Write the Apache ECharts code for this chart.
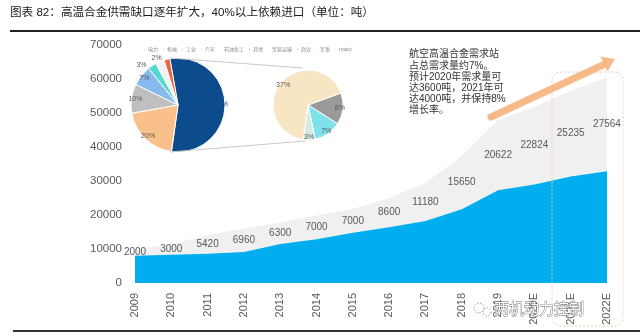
<!DOCTYPE html>
<html>
<head>
<meta charset="utf-8">
<script src="https://cdn.jsdelivr.net/npm/echarts@6/dist/echarts.min.js"></script>
<style>html,body{margin:0;padding:0;background:#fff}#c{width:640px;height:336px}</style>
</head>
<body>
<div id="c"></div>
<script>
// ---- data ----
const years = ['2009','2010','2011','2012','2013','2014','2015','2016','2017','2018','2019','2020E','2021E','2022E'];
const supply = [8000, 8300, 8600, 9100, 11500, 12850, 14800, 16400, 18200, 21700, 27300, 29000, 31300, 32900];
const gap = [2000, 3000, 5420, 6960, 6300, 7000, 7000, 8600, 11180, 15650, 20622, 22824, 25235, 27564];
const yTicks = [0, 10000, 20000, 30000, 40000, 50000, 60000, 70000];
const mainPieNames = ['航空航天', '电力', '机械', '工业', '汽车', '石油化工', '其他'];
const mainPieValues = [55, 20, 10, 7, 3, 3, 2];
const subPieNames = ['商业', '军事', 'rotary', '贸易运输'];
const subPieValues = [8, 7, 3, 37];
const titleText = '图表 82：高温合金供需缺口逐年扩大，40%以上依赖进口（单位：吨）';
const noteText = '航空高温合金需求站\n占总需求量约7%。\n预计2020年需求量可\n达3600吨，2021年可\n达4000吨，并保持8%\n增长率。';

const mainColors = ['#0C4C8C', '#F9C08C', '#BFBFBF', '#86B9EE', '#55D8D0', '#F2F2F2', '#E8653F'];
const subColors = ['#9A9A9A', '#7FE2EA', '#D3ECE3', '#F7E5C3'];
const FONT = "'Liberation Sans','Noto Sans CJK SC',sans-serif";

const chart = echarts.init(document.getElementById('c'), null, {renderer: 'canvas'});

const labelMid = supply.map((s, i) => s + gap[i] / 2);

const mainData = mainPieNames.map((n, i) => ({name: n, value: mainPieValues[i], itemStyle: {color: mainColors[i]}}));
const subData = subPieNames.map((n, i) => ({name: n, value: subPieValues[i], itemStyle: {color: subColors[i]}}));

const pctFmt = p => p.value + '%';

chart.setOption({
  animation: false,
  textStyle: {fontFamily: FONT},
  grid: {left: 135, right: 33, top: 45, bottom: 53, containLabel: false},
  legend: {
    data: ['电力','机械','工业','汽车','石油化工','其他','贸易运输','商业','军事','rotary'],
    left: 137, top: 42, itemWidth: 3, itemHeight: 3, icon: 'circle', itemGap: 3,
    textStyle: {fontSize: 5, color: '#8a8a8a', padding: [0,0,0,-3]}
  },
  xAxis: {
    type: 'category', data: years, boundaryGap: false,
    axisLine: {show: false}, axisTick: {show: false},
    axisLabel: {rotate: 90, margin: 10, fontSize: 11, color: '#595959', interval: 0, fontFamily: FONT}
  },
  yAxis: {
    type: 'value', min: yTicks[0], max: yTicks[yTicks.length - 1], interval: 10000,
    splitLine: {show: false}, axisLine: {show: false}, axisTick: {show: false},
    axisLabel: {fontSize: 11.5, color: '#595959', margin: 13, fontFamily: FONT, formatter: v => String(v)}
  },
  series: [
    {type: 'line', name: '供给', data: supply, stack: 'total', symbol: 'none',
     lineStyle: {width: 0}, areaStyle: {color: '#00AEEF', opacity: 1}, z: 2},
    {type: 'line', name: '缺口', data: gap, stack: 'total', symbol: 'none',
     lineStyle: {width: 0}, areaStyle: {color: '#F0F0F0', opacity: 1}, z: 1},
    {type: 'line', name: 'gapLabel', data: labelMid, symbol: 'circle', symbolSize: 2, showSymbol: true,
     silent: true, itemStyle: {color: 'rgba(0,0,0,0)', borderWidth: 0},
     lineStyle: {color: 'rgba(0,0,0,0)', width: 0}, z: 5,
     label: {show: true, position: 'inside', fontSize: 10, color: '#595959',
             formatter: p => String(gap[p.dataIndex])}},
    // main pie visible
    {type: 'pie', center: [178, 105], radius: 47, startAngle: 100, clockwise: true,
     data: mainData.map((d, i) => Object.assign({}, d, {
       label: i >= 4 ? {show: true, position: 'outside'} : {show: false}
     })),
     itemStyle: {borderColor: '#fff', borderWidth: 1},
     label: {fontSize: 7, color: '#595959', formatter: pctFmt},
     labelLine: {show: false, length: 1, length2: 0},
     avoidLabelOverlap: false, silent: true, z: 10},
    // main pie label carrier
    {type: 'pie', center: [178, 105], radius: 80, startAngle: 100, clockwise: true,
     data: mainData.map((d, i) => ({name: d.name, value: d.value,
       label: {show: i < 4, color: i === 0 ? '#1f4f80' : '#595959'}})),
     itemStyle: {color: 'rgba(0,0,0,0)'},
     label: {position: 'inside', fontSize: 7, formatter: pctFmt},
     labelLine: {show: false}, legendHoverLink: false, silent: true, z: 11},
    // sub pie visible
    {type: 'pie', center: [308, 105], radius: 35, startAngle: 20, clockwise: true,
     data: subData, itemStyle: {borderColor: '#fff', borderWidth: 1},
     label: {show: false}, labelLine: {show: false}, silent: true, z: 10},
    // sub pie label carrier
    {type: 'pie', center: [308, 105], radius: 58, startAngle: 20, clockwise: true,
     data: subData.map(d => ({name: d.name, value: d.value})),
     itemStyle: {color: 'rgba(0,0,0,0)'},
     label: {show: true, position: 'inside', fontSize: 7, color: '#595959', formatter: pctFmt},
     labelLine: {show: false}, silent: true, z: 11}
  ],
  graphic: [
    {type: 'text', left: 10, top: 7, style: {text: titleText, fontSize: 11.6, fill: '#1a1a1a', fontFamily: FONT}},
    {type: 'line', shape: {x1: 10, y1: 31, x2: 640, y2: 31}, style: {stroke: '#222', lineWidth: 2}},
    {type: 'line', shape: {x1: 13, y1: 331, x2: 640, y2: 331}, style: {stroke: '#333', lineWidth: 2}},
    {type: 'line', shape: {x1: 170, y1: 58, x2: 303, y2: 68}, style: {stroke: '#C8C8C8', lineWidth: 1}, z: 20},
    {type: 'line', shape: {x1: 170, y1: 152, x2: 305, y2: 141}, style: {stroke: '#C8C8C8', lineWidth: 1}, z: 20},
    {type: 'text', x: 409, y: 49, style: {text: noteText, fontSize: 10, lineHeight: 11.2, fill: '#333', fontFamily: FONT}, z: 20},
    {type: 'rect', shape: {x: 552, y: 72, width: 71, height: 254, r: 8}, style: {fill: 'none', stroke: '#EDCBA8', lineWidth: 1, lineDash: [2, 2]}, z: 20},
    {type: 'line', shape: {x1: 491, y1: 117, x2: 604, y2: 64.5}, style: {stroke: '#F5B27C', lineWidth: 7, lineCap: 'round', opacity: 0.9}, z: 20},
    {type: 'polygon', shape: {points: [[615, 59], [607.5, 71.5], [600.5, 56.5]]}, style: {fill: '#F5B27C', opacity: 0.9}, z: 20},
    {type: 'circle', shape: {cx: 479, cy: 308, r: 5}, style: {fill: 'none', stroke: '#999', lineWidth: 1, lineDash: [1.5, 1.5]}, z: 21},
    {type: 'circle', shape: {cx: 487, cy: 312, r: 4}, style: {fill: 'none', stroke: '#999', lineWidth: 1, lineDash: [1.5, 1.5]}, z: 21},
    {type: 'text', x: 494, y: 301, style: {text: '两机动力控制', fontSize: 15, fill: '#fff', stroke: '#666', lineWidth: 0.8, fontFamily: "'Noto Sans CJK SC',sans-serif"}, z: 21}
  ]
});
</script>
</body>
</html>
